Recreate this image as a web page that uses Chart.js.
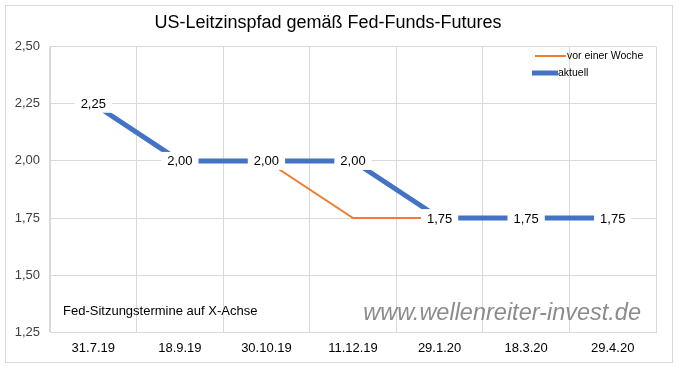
<!DOCTYPE html>
<html>
<head>
<meta charset="utf-8">
<script src="https://cdn.jsdelivr.net/npm/chart.js@4"></script>
<style>
  html, body { margin: 0; padding: 0; background: #fff; }
  #wrap { width: 679px; height: 369px; }
</style>
</head>
<body>
<div id="wrap"><canvas id="chart" width="679" height="369"></canvas></div>
<script>
// Fed-Sitzungstermine
const dates = ["31.7.19", "18.9.19", "30.10.19", "11.12.19", "29.1.20", "18.3.20", "29.4.20"];
const vorEinerWoche = [2.25, 2.00, 2.00, 1.75, 1.75, 1.75, 1.75];
const aktuell = [2.25, 2.00, 2.00, 2.00, 1.75, 1.75, 1.75];
const yTicks = [1.25, 1.50, 1.75, 2.00, 2.25, 2.50];

const font = "'Liberation Sans', Arial, sans-serif";

function komma(v) {
    return Number(v).toFixed(2).replace(".", ",");
}

// border, note, watermark, legend and value labels
const extras = {
    id: "extras",
    beforeDraw(chart) {
        const ctx = chart.ctx;
        ctx.save();
        ctx.fillStyle = "#fff";
        ctx.fillRect(0, 0, chart.width, chart.height);
        ctx.strokeStyle = "#d9d9d9";
        ctx.lineWidth = 1;
        ctx.strokeRect(5.5, 5.5, 667, 357);
        ctx.restore();
    },
    afterDatasetsDraw(chart) {
        const ctx = chart.ctx;
        ctx.save();

        // note + watermark
        ctx.textBaseline = "middle";
        ctx.textAlign = "left";
        ctx.fillStyle = "#000";
        ctx.font = "13px " + font;
        ctx.fillText("Fed-Sitzungstermine auf X-Achse", 63, 311);
        ctx.fillStyle = "#8c8c8c";
        ctx.font = "italic 23.5px " + font;
        ctx.textAlign = "right";
        ctx.fillText("www.wellenreiter-invest.de", 641, 313);

        // legend
        ctx.textAlign = "left";
        ctx.font = "10.5px " + font;
        ctx.fillStyle = "#000";
        const ds = chart.data.datasets;
        ctx.strokeStyle = ds[0].borderColor;
        ctx.lineWidth = ds[0].borderWidth;
        ctx.beginPath(); ctx.moveTo(535, 56); ctx.lineTo(566, 56); ctx.stroke();
        ctx.fillText(ds[0].label, 567, 56);
        ctx.strokeStyle = ds[1].borderColor;
        ctx.lineWidth = ds[1].borderWidth;
        ctx.beginPath(); ctx.moveTo(532, 73); ctx.lineTo(558, 73); ctx.stroke();
        ctx.fillText(ds[1].label, 558, 73);

        // value labels for "aktuell"
        const meta = chart.getDatasetMeta(1);
        ctx.font = "13px " + font;
        ctx.textAlign = "center";
        meta.data.forEach((pt, i) => {
            const txt = komma(aktuell[i]);
            const w = ctx.measureText(txt).width + 12;
            ctx.fillStyle = "#fff";
            ctx.fillRect(pt.x - w / 2, pt.y - 9, w, 18);
            ctx.fillStyle = "#000";
            ctx.fillText(txt, pt.x, pt.y + 1);
        });
        ctx.restore();
    }
};

new Chart(document.getElementById("chart"), {
    type: "line",
    data: {
        labels: dates,
        datasets: [
            {
                label: "vor einer Woche",
                data: vorEinerWoche,
                borderColor: "#ED7D31",
                backgroundColor: "#ED7D31",
                borderWidth: 2,
                pointRadius: 0,
                tension: 0,
                fill: false,
                order: 2
            },
            {
                label: "aktuell",
                data: aktuell,
                borderColor: "#4472C4",
                backgroundColor: "#4472C4",
                borderWidth: 5,
                pointRadius: 0,
                tension: 0,
                fill: false,
                order: 1
            }
        ]
    },
    options: {
        responsive: false,
        animation: false,
        devicePixelRatio: 1,
        layout: { padding: { left: 0, right: 23, top: 0, bottom: 5 } },
        plugins: {
            legend: { display: false },
            tooltip: { enabled: false },
            title: {
                display: true,
                text: "US-Leitzinspfad gemäß Fed-Funds-Futures",
                color: "#000",
                font: { family: font, size: 18, weight: "normal" },
                padding: { top: 12, bottom: 13 }
            }
        },
        scales: {
            x: {
                offset: true,
                grid: { offset: true, color: "#d9d9d9", drawTicks: false },
                border: { color: "#d9d9d9" },
                ticks: { color: "#000", padding: 8, font: { family: font, size: 13 } }
            },
            y: {
                min: yTicks[0],
                max: yTicks[yTicks.length - 1],
                afterFit(scale) { scale.width = 50; },
                afterBuildTicks(scale) { scale.ticks = yTicks.map(v => ({ value: v })); },
                grid: { color: "#d9d9d9", drawTicks: false },
                border: { color: "#d9d9d9" },
                ticks: {
                    color: "#404040",
                    padding: 10,
                    font: { family: font, size: 13 },
                    callback: v => komma(v)
                }
            }
        }
    },
    plugins: [extras]
});
</script>
</body>
</html>
